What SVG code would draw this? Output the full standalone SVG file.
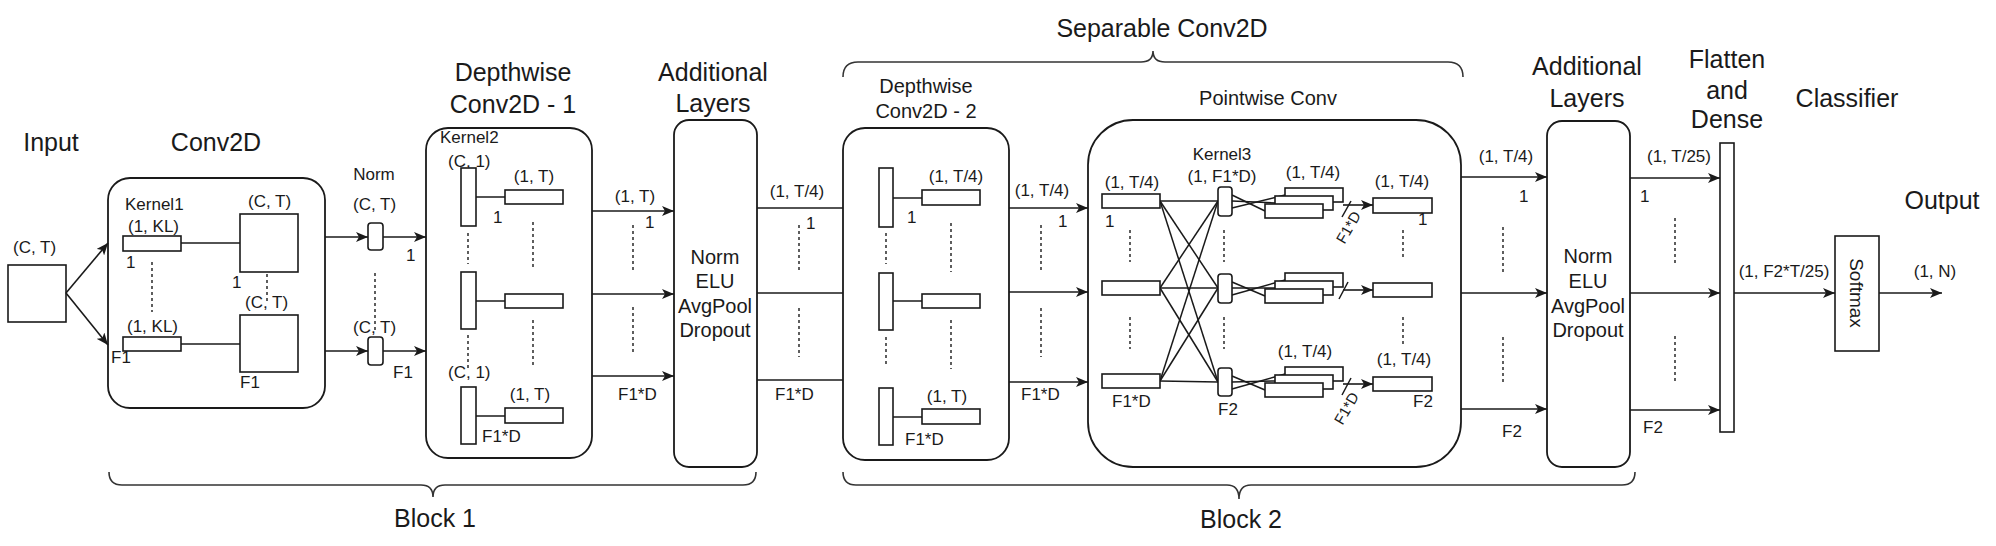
<svg xmlns="http://www.w3.org/2000/svg" width="1996" height="546" viewBox="0 0 1996 546">
<defs>
<marker id="ah" markerWidth="12" markerHeight="10" refX="12" refY="5" orient="auto" markerUnits="userSpaceOnUse"><path d="M0,0 L12,5 L0,10 L3,5 z" fill="#1a1a1a"/></marker>
</defs>
<style>
text{font-family:"Liberation Sans",Arial,sans-serif;fill:#1a1a1a}
.h{font-size:25px;text-anchor:middle}
.hs{font-size:20px;text-anchor:middle}
.l{font-size:17px}
.lc{font-size:17px;text-anchor:middle}
.in{font-size:20px;text-anchor:middle}
.box{fill:#fff;stroke:#1a1a1a;stroke-width:1.8}
.r{fill:#fff;stroke:#1a1a1a;stroke-width:1.6}
.ln{fill:none;stroke:#1a1a1a;stroke-width:1.5}
.ar{fill:none;stroke:#1a1a1a;stroke-width:1.6;marker-end:url(#ah)}
.dt{fill:none;stroke:#1a1a1a;stroke-width:1.4;stroke-dasharray:3 3}
.br{fill:none;stroke:#333;stroke-width:1.6}
</style>
<rect width="1996" height="546" fill="#fff"/>

<!-- headings -->
<g id="headings">
<text class="h" x="51" y="151">Input</text>
<text class="h" x="216" y="151">Conv2D</text>
<text class="h" x="513" y="81">Depthwise</text>
<text class="h" x="513" y="113">Conv2D - 1</text>
<text class="h" x="713" y="81">Additional</text>
<text class="h" x="713" y="112">Layers</text>
<text class="h" x="1162" y="37">Separable Conv2D</text>
<text class="hs" x="926" y="93">Depthwise</text>
<text class="hs" x="926" y="118">Conv2D - 2</text>
<text class="hs" x="1268" y="105">Pointwise Conv</text>
<text class="h" x="1587" y="75">Additional</text>
<text class="h" x="1587" y="107">Layers</text>
<text class="h" x="1727" y="68">Flatten</text>
<text class="h" x="1727" y="99">and</text>
<text class="h" x="1727" y="128">Dense</text>
<text class="h" x="1847" y="107">Classifier</text>
<text class="h" x="1942" y="209">Output</text>
<text class="h" x="435" y="527">Block 1</text>
<text class="h" x="1241" y="528">Block 2</text>
</g>

<g id="braces">
<path class="br" d="M843 77 Q843 62 858 62 L1141 62 Q1153 62 1153 51 Q1153 62 1165 62 L1448 62 Q1463 62 1463 77"/>
<path class="br" d="M109 472 Q109 485 122 485 L421 485 Q433 485 433 497 Q433 485 445 485 L743 485 Q756 485 756 472"/>
<path class="br" d="M843 472 Q843 485 856 485 L1227 485 Q1239 485 1239 499 Q1239 485 1251 485 L1622 485 Q1635 485 1635 472"/>
</g>

<!-- Input -->
<g id="input">
<rect class="r" x="8" y="265" width="58" height="57"/>
<text class="l" x="13" y="253">(C, T)</text>
</g>

<!-- Conv2D -->
<g id="conv2d">
<rect class="box" x="108" y="178" width="217" height="230" rx="22"/>
<text class="l" x="125" y="210">Kernel1</text>
<text class="l" x="128" y="232">(1, KL)</text>
<line class="ln" x1="181" y1="243" x2="240" y2="243"/>
<rect class="r" x="123" y="236" width="58" height="15"/>
<rect class="r" x="240" y="214" width="58" height="58"/>
<text class="l" x="248" y="207">(C, T)</text>
<text class="l" x="126" y="268">1</text>
<text class="l" x="232" y="288">1</text>
<line class="dt" x1="152" y1="262" x2="152" y2="312"/>
<line class="dt" x1="267" y1="274" x2="267" y2="304"/>
<text class="l" x="245" y="308">(C, T)</text>
<text class="l" x="127" y="332">(1, KL)</text>
<line class="ln" x1="181" y1="344" x2="240" y2="344"/>
<rect class="r" x="123" y="337" width="58" height="14"/>
<rect class="r" x="240" y="315" width="58" height="57"/>
<text class="l" x="111" y="363">F1</text>
<text class="l" x="240" y="388">F1</text>
</g>

<!-- Norm -->
<g id="norm">
<text class="lc" x="374" y="180">Norm</text>
<text class="l" x="353" y="210">(C, T)</text>
<line class="dt" x1="375" y1="273" x2="375" y2="330"/>
<text class="l" x="353" y="333">(C, T)</text>
<rect class="r" x="368" y="223" width="15" height="27" rx="3"/>
<rect class="r" x="368" y="337" width="15" height="28" rx="3"/>
<text class="l" x="406" y="261">1</text>
<text class="l" x="393" y="378">F1</text>
</g>

<!-- Depthwise Conv2D - 1 -->
<g id="depthwise1">
<rect class="box" x="426" y="128" width="166" height="330" rx="22"/>
<text class="l" x="440" y="143">Kernel2</text>
<text class="l" x="448" y="167">(C, 1)</text>
<text class="lc" x="534" y="182">(1, T)</text>
<line class="ln" x1="476" y1="197" x2="505" y2="197"/>
<rect class="r" x="461" y="168" width="15" height="58"/>
<rect class="r" x="505" y="190" width="58" height="14"/>
<text class="l" x="493" y="223">1</text>
<line class="dt" x1="468" y1="233" x2="468" y2="264"/>
<line class="dt" x1="533" y1="222" x2="533" y2="270"/>
<line class="ln" x1="476" y1="301" x2="505" y2="301"/>
<rect class="r" x="461" y="272" width="15" height="57"/>
<rect class="r" x="505" y="294" width="58" height="14"/>
<line class="dt" x1="468" y1="335" x2="468" y2="368"/>
<line class="dt" x1="533" y1="320" x2="533" y2="368"/>
<text class="l" x="448" y="378">(C, 1)</text>
<text class="lc" x="530" y="400">(1, T)</text>
<line class="ln" x1="476" y1="416" x2="505" y2="416"/>
<rect class="r" x="461" y="387" width="15" height="57"/>
<rect class="r" x="505" y="408" width="58" height="15"/>
<text class="l" x="482" y="442">F1*D</text>
</g>

<!-- Additional Layers 1 -->
<g id="additional1">
<rect class="box" x="674" y="120" width="83" height="347" rx="15"/>
<text class="in" x="715" y="264">Norm</text>
<text class="in" x="715" y="288">ELU</text>
<text class="in" x="715" y="313">AvgPool</text>
<text class="in" x="715" y="337">Dropout</text>
</g>

<!-- Depthwise Conv2D - 2 -->
<g id="depthwise2">
<rect class="box" x="843" y="128" width="166" height="332" rx="22"/>
<text class="lc" x="956" y="182">(1, T/4)</text>
<line class="ln" x1="893" y1="198" x2="922" y2="198"/>
<rect class="r" x="879" y="168" width="14" height="59"/>
<rect class="r" x="922" y="190" width="58" height="15"/>
<text class="l" x="907" y="223">1</text>
<line class="dt" x1="886" y1="233" x2="886" y2="264"/>
<line class="dt" x1="951" y1="223" x2="951" y2="272"/>
<line class="ln" x1="893" y1="301" x2="922" y2="301"/>
<rect class="r" x="879" y="273" width="14" height="57"/>
<rect class="r" x="922" y="294" width="58" height="14"/>
<line class="dt" x1="886" y1="337" x2="886" y2="367"/>
<line class="dt" x1="951" y1="320" x2="951" y2="369"/>
<text class="lc" x="947" y="402">(1, T)</text>
<line class="ln" x1="893" y1="417" x2="922" y2="417"/>
<rect class="r" x="879" y="388" width="14" height="57"/>
<rect class="r" x="922" y="409" width="58" height="15"/>
<text class="l" x="905" y="445">F1*D</text>
</g>

<!-- Pointwise Conv -->
<g id="pointwise">
<rect class="box" x="1088" y="120" width="373" height="347" rx="45"/>
<g class="ln">
<line x1="1160" y1="201" x2="1218" y2="201"/>
<line x1="1160" y1="201" x2="1218" y2="288"/>
<line x1="1160" y1="201" x2="1218" y2="382"/>
<line x1="1160" y1="288" x2="1218" y2="201"/>
<line x1="1160" y1="288" x2="1218" y2="288"/>
<line x1="1160" y1="288" x2="1218" y2="382"/>
<line x1="1160" y1="381" x2="1218" y2="201"/>
<line x1="1160" y1="381" x2="1218" y2="288"/>
<line x1="1160" y1="381" x2="1218" y2="382"/>
<line x1="1232" y1="195" x2="1265" y2="211"/>
<line x1="1232" y1="201" x2="1275" y2="203"/>
<line x1="1232" y1="208" x2="1285" y2="195"/>
<line x1="1232" y1="282" x2="1265" y2="296"/>
<line x1="1232" y1="288" x2="1275" y2="288"/>
<line x1="1232" y1="295" x2="1285" y2="280"/>
<line x1="1232" y1="376" x2="1265" y2="390"/>
<line x1="1232" y1="382" x2="1275" y2="381"/>
<line x1="1232" y1="389" x2="1285" y2="374"/>
</g>
<text class="lc" x="1132" y="188">(1, T/4)</text>
<rect class="r" x="1102" y="194" width="58" height="14"/>
<text class="l" x="1105" y="227">1</text>
<line class="dt" x1="1130" y1="230" x2="1130" y2="262"/>
<rect class="r" x="1102" y="281" width="58" height="14"/>
<line class="dt" x1="1130" y1="317" x2="1130" y2="349"/>
<rect class="r" x="1102" y="374" width="58" height="14"/>
<text class="l" x="1112" y="407">F1*D</text>
<text class="lc" x="1222" y="160">Kernel3</text>
<text class="lc" x="1222" y="182">(1, F1*D)</text>
<rect class="r" x="1218" y="187" width="14" height="29" rx="3"/>
<line class="dt" x1="1224" y1="230" x2="1224" y2="262"/>
<rect class="r" x="1218" y="274" width="14" height="29" rx="3"/>
<line class="dt" x1="1224" y1="317" x2="1224" y2="349"/>
<rect class="r" x="1218" y="368" width="14" height="28" rx="3"/>
<text class="l" x="1218" y="415">F2</text>
<text class="lc" x="1313" y="178">(1, T/4)</text>
<rect class="r" x="1285" y="188" width="58" height="14"/>
<rect class="r" x="1275" y="196" width="58" height="14"/>
<rect class="r" x="1265" y="204" width="58" height="14"/>
<rect class="r" x="1285" y="273" width="58" height="14"/>
<rect class="r" x="1275" y="281" width="58" height="14"/>
<rect class="r" x="1265" y="289" width="58" height="14"/>
<text class="lc" x="1305" y="357">(1, T/4)</text>
<rect class="r" x="1285" y="367" width="58" height="14"/>
<rect class="r" x="1275" y="375" width="58" height="14"/>
<rect class="r" x="1265" y="383" width="58" height="14"/>
<line class="ar" x1="1343" y1="205" x2="1373" y2="205"/>
<line class="ln" x1="1342" y1="217" x2="1351" y2="201"/>
<line class="ar" x1="1343" y1="290" x2="1373" y2="290"/>
<line class="ln" x1="1339" y1="299" x2="1348" y2="282"/>
<line class="ar" x1="1343" y1="384" x2="1373" y2="384"/>
<line class="ln" x1="1342" y1="395" x2="1351" y2="378"/>
<text class="l" transform="translate(1353,230) rotate(-60)" text-anchor="middle" style="font-size:15px">F1*D</text>
<text class="l" transform="translate(1351,411) rotate(-60)" text-anchor="middle" style="font-size:15px">F1*D</text>
<text class="lc" x="1402" y="187">(1, T/4)</text>
<rect class="r" x="1373" y="198" width="59" height="15"/>
<text class="l" x="1418" y="225">1</text>
<line class="dt" x1="1403" y1="230" x2="1403" y2="260"/>
<rect class="r" x="1373" y="283" width="59" height="14"/>
<line class="dt" x1="1403" y1="317" x2="1403" y2="347"/>
<text class="lc" x="1404" y="365">(1, T/4)</text>
<rect class="r" x="1373" y="377" width="59" height="14"/>
<text class="l" x="1413" y="407">F2</text>
</g>

<!-- Additional Layers 2 -->
<g id="additional2">
<rect class="box" x="1547" y="121" width="83" height="346" rx="15"/>
<text class="in" x="1588" y="263">Norm</text>
<text class="in" x="1588" y="288">ELU</text>
<text class="in" x="1588" y="313">AvgPool</text>
<text class="in" x="1588" y="337">Dropout</text>
</g>

<!-- Flatten and Dense -->
<g id="flatten">
<rect class="r" x="1720" y="143" width="14" height="289"/>
</g>

<!-- Classifier -->
<g id="softmax">
<rect class="r" x="1835" y="236" width="44" height="115"/>
<text class="in" transform="translate(1850,293) rotate(90)" style="font-size:19px">Softmax</text>
</g>

<!-- connectors -->
<g id="connectors">
<line class="ar" x1="66" y1="293" x2="108" y2="243"/>
<line class="ar" x1="66" y1="293" x2="108" y2="345"/>
<line class="ar" x1="325" y1="237" x2="368" y2="237"/>
<line class="ar" x1="325" y1="351" x2="368" y2="351"/>
<line class="ar" x1="383" y1="237" x2="426" y2="237"/>
<line class="ar" x1="383" y1="351" x2="426" y2="351"/>
<line class="ar" x1="592" y1="211" x2="674" y2="211"/>
<line class="ar" x1="592" y1="294" x2="674" y2="294"/>
<line class="ar" x1="592" y1="376" x2="674" y2="376"/>
<line class="ln" x1="757" y1="208" x2="843" y2="208"/>
<line class="ln" x1="757" y1="293" x2="843" y2="293"/>
<line class="ln" x1="757" y1="380" x2="843" y2="380"/>
<line class="ar" x1="1009" y1="208" x2="1088" y2="208"/>
<line class="ar" x1="1009" y1="292" x2="1088" y2="292"/>
<line class="ar" x1="1009" y1="382" x2="1088" y2="382"/>
<line class="ar" x1="1461" y1="177" x2="1547" y2="177"/>
<line class="ar" x1="1461" y1="293" x2="1547" y2="293"/>
<line class="ar" x1="1461" y1="409" x2="1547" y2="409"/>
<line class="ar" x1="1630" y1="178" x2="1720" y2="178"/>
<line class="ar" x1="1630" y1="293" x2="1720" y2="293"/>
<line class="ar" x1="1630" y1="410" x2="1720" y2="410"/>
<line class="ar" x1="1734" y1="293" x2="1835" y2="293"/>
<line class="ar" x1="1879" y1="293" x2="1942" y2="293"/>
<line class="dt" x1="633" y1="225" x2="633" y2="273"/>
<line class="dt" x1="633" y1="307" x2="633" y2="355"/>
<line class="dt" x1="799" y1="225" x2="799" y2="273"/>
<line class="dt" x1="799" y1="308" x2="799" y2="357"/>
<line class="dt" x1="1041" y1="225" x2="1041" y2="273"/>
<line class="dt" x1="1041" y1="308" x2="1041" y2="357"/>
<line class="dt" x1="1503" y1="227" x2="1503" y2="273"/>
<line class="dt" x1="1503" y1="337" x2="1503" y2="383"/>
<line class="dt" x1="1675" y1="218" x2="1675" y2="265"/>
<line class="dt" x1="1675" y1="336" x2="1675" y2="383"/>
</g>

<g id="edge-labels">
<text class="lc" x="635" y="202">(1, T)</text>
<text class="l" x="645" y="228">1</text>
<text class="l" x="618" y="400">F1*D</text>
<text class="lc" x="797" y="197">(1, T/4)</text>
<text class="l" x="806" y="229">1</text>
<text class="l" x="775" y="400">F1*D</text>
<text class="lc" x="1042" y="196">(1, T/4)</text>
<text class="l" x="1058" y="227">1</text>
<text class="l" x="1021" y="400">F1*D</text>
<text class="lc" x="1506" y="162">(1, T/4)</text>
<text class="l" x="1519" y="202">1</text>
<text class="l" x="1502" y="437">F2</text>
<text class="lc" x="1679" y="162">(1, T/25)</text>
<text class="l" x="1640" y="202">1</text>
<text class="l" x="1643" y="433">F2</text>
<text class="lc" x="1784" y="277">(1, F2*T/25)</text>
<text class="lc" x="1935" y="277">(1, N)</text>
</g>
</svg>
